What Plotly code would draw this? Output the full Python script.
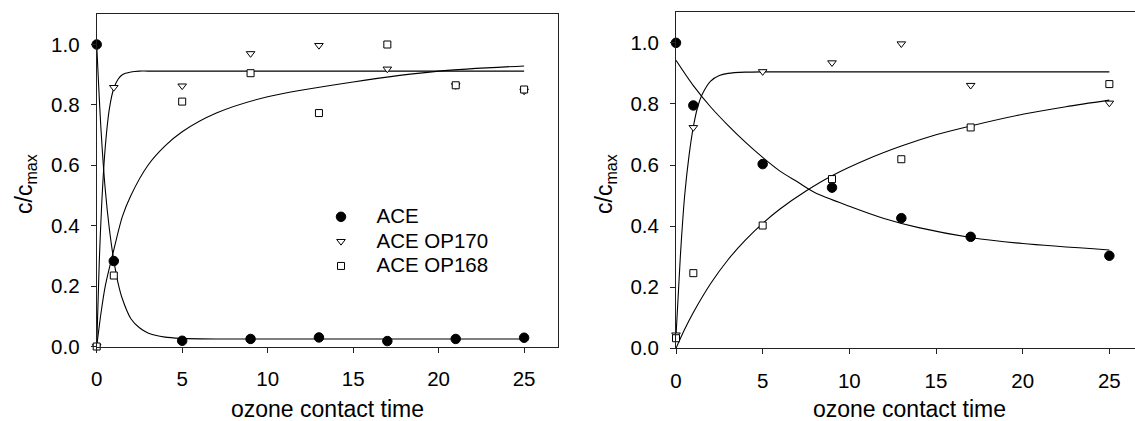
import plotly.graph_objects as go

# ---------------- data ----------------
time_left = [0, 1, 5, 9, 13, 17, 21, 25]
left_ace = [1.0, 0.283, 0.019, 0.025, 0.030, 0.018, 0.025, 0.029]
left_op170 = [0.0, 0.858, 0.863, 0.970, 0.997, 0.919, 0.864, 0.846]
left_op168 = [0.0, 0.235, 0.811, 0.905, 0.773, 1.0, 0.865, 0.851]

time_right = [0, 1, 5, 9, 13, 17, 25]
right_ace = [1.0, 0.795, 0.603, 0.526, 0.426, 0.365, 0.303]
right_op170 = [0.044, 0.723, 0.906, 0.935, 0.997, 0.861, 0.803]
right_op168 = [0.033, 0.246, 0.402, 0.554, 0.619, 0.723, 0.865]

# fitted curves
fit_l_ace_t = [0, 0.25, 0.5, 0.75, 1, 1.25, 1.5, 2, 2.5, 3, 4, 5, 7, 25]
fit_l_ace_v = [1.0, 0.72, 0.52, 0.385, 0.285, 0.21, 0.158, 0.092, 0.062, 0.045, 0.031, 0.027, 0.025, 0.025]

fit_l_170_t = [0, 0.15, 0.3, 0.5, 0.75, 1, 1.25, 1.5, 2, 2.5, 3, 25]
fit_l_170_v = [0.0, 0.28, 0.48, 0.66, 0.79, 0.855, 0.885, 0.9, 0.909, 0.912, 0.912, 0.912]

fit_l_168_t = [0, 0.25, 0.5, 1, 1.5, 2, 3, 4, 5, 7, 10, 15, 20, 25]
fit_l_168_v = [0.0, 0.11, 0.2, 0.32, 0.43, 0.5, 0.6, 0.664, 0.711, 0.773, 0.827, 0.876, 0.912, 0.929]

fit_r_ace_t = [0, 1, 2, 3, 4, 5, 6, 7, 8, 10, 12, 14, 17, 20, 25]
fit_r_ace_v = [0.943, 0.86, 0.79, 0.73, 0.675, 0.625, 0.58, 0.545, 0.51, 0.465, 0.425, 0.395, 0.363, 0.343, 0.322]

fit_r_170_t = [0, 0.25, 0.5, 0.75, 1, 1.25, 1.5, 2, 2.5, 3, 4, 5, 25]
fit_r_170_v = [0.04, 0.3, 0.5, 0.63, 0.725, 0.79, 0.83, 0.875, 0.893, 0.9, 0.904, 0.905, 0.905]

fit_r_168_t = [0, 0.5, 1, 2, 3, 4, 5, 6, 7.5, 9, 11, 13, 15, 17, 20, 22.5, 25]
fit_r_168_v = [0.0, 0.062, 0.117, 0.212, 0.29, 0.354, 0.409, 0.456, 0.515, 0.565, 0.618, 0.662, 0.699, 0.728, 0.766, 0.791, 0.8125]

y_ticks = [0.0, 0.2, 0.4, 0.6, 0.8, 1.0]
x_ticks = [0, 5, 10, 15, 20, 25]
series_names = ["ACE", "ACE OP170", "ACE OP168"]

# ---------------- styling ----------------
FONT = "Liberation Sans, Arial, sans-serif"
TICK_SIZE = 20.5
TITLE_SIZE = 23
LEGEND_LAYOUT_SIZE = 16.6
LINE = dict(color="black", width=1.1)
GAP = "\u00a0\u00a0\u2009"

marker_styles = [
    dict(symbol="circle", size=9.5, color="black", line=dict(color="black", width=1)),
    dict(symbol="triangle-down", size=7.5, color="white", line=dict(color="black", width=1)),
    dict(symbol="square", size=7, color="white", line=dict(color="black", width=1)),
]

fig = go.Figure()

# curves
for t, v, xa, ya in [
    (fit_l_ace_t, fit_l_ace_v, "x", "y"),
    (fit_l_170_t, fit_l_170_v, "x", "y"),
    (fit_l_168_t, fit_l_168_v, "x", "y"),
    (fit_r_ace_t, fit_r_ace_v, "x2", "y2"),
    (fit_r_170_t, fit_r_170_v, "x2", "y2"),
    (fit_r_168_t, fit_r_168_v, "x2", "y2"),
]:
    fig.add_trace(go.Scatter(x=t, y=v, mode="lines", line=dict(shape="spline", smoothing=0.8, **LINE),
                             xaxis=xa, yaxis=ya, showlegend=False, hoverinfo="skip", cliponaxis=False))

# markers
for name, vals, ms in zip(series_names, [left_ace, left_op170, left_op168], marker_styles):
    label = '<span style="font-size:%spx">%s%s</span>' % (TICK_SIZE, GAP, name)
    fig.add_trace(go.Scatter(x=time_left, y=vals, mode="markers", marker=ms, name=label,
                             xaxis="x", yaxis="y", cliponaxis=False))
for name, vals, ms in zip(series_names, [right_ace, right_op170, right_op168], marker_styles):
    fig.add_trace(go.Scatter(x=time_right, y=vals, mode="markers", marker=ms, name=name,
                             xaxis="x2", yaxis="y2", cliponaxis=False, showlegend=False))

W, H = 1135, 421

axis_common = dict(showgrid=False, zeroline=False, showline=True, linecolor="#222", linewidth=1,
                   ticks="outside", ticklen=5, tickcolor="#222", tickwidth=1, automargin=False,
                   tickfont=dict(family=FONT, size=TICK_SIZE, color="black"))

fig.update_layout(
    width=W, height=H,
    margin=dict(l=0, r=0, t=0, b=0, pad=0),
    paper_bgcolor="white", plot_bgcolor="white",
    font=dict(family=FONT, color="black"),
    xaxis=dict(domain=[96.7 / W, 558.3 / W], range=[0, 27], tickvals=x_ticks, mirror=True,
               anchor="y", ticklabelstandoff=9, **axis_common),
    yaxis=dict(domain=[(H - 346.5) / H, (H - 14.3) / H], range=[0, 1.1], tickvals=y_ticks,
               tickformat=".1f", mirror=True, anchor="x", ticklabelstandoff=7, **axis_common),
    xaxis2=dict(domain=[676 / W, 1.0], range=[0, 26.48], tickvals=x_ticks, mirror=True,
                anchor="y2", ticklabelstandoff=9, **axis_common),
    yaxis2=dict(domain=[(H - 348.3) / H, (H - 12.3) / H], range=[0, 1.1], tickvals=y_ticks,
                tickformat=".1f", mirror=False, anchor="x2", ticklabelstandoff=7, **axis_common),
    legend=dict(x=321 / W, xanchor="left", y=(H - 199.5) / H, yanchor="top",
                bgcolor="rgba(0,0,0,0)", borderwidth=0,
                font=dict(family=FONT, size=LEGEND_LAYOUT_SIZE, color="black"),
                tracegroupgap=0),
    showlegend=True,
)

title_font = dict(family=FONT, size=TITLE_SIZE, color="black")
ann = [
    dict(text="ozone contact time", x=327.5 / W, y=(H - 409) / H, height=22),
    dict(text="ozone contact time", x=909 / W, y=(H - 409) / H, height=22),
    dict(text="c/c<sub>max</sub>", x=25 / W, y=(H - 184) / H, textangle=-90),
    dict(text="c/c<sub>max</sub>", x=605 / W, y=(H - 184) / H, textangle=-90),
]
for a in ann:
    fig.add_annotation(xref="paper", yref="paper", xanchor="center", yanchor="middle",
                       showarrow=False, font=title_font, valign="middle", **a)

fig.write_html("out.html")
